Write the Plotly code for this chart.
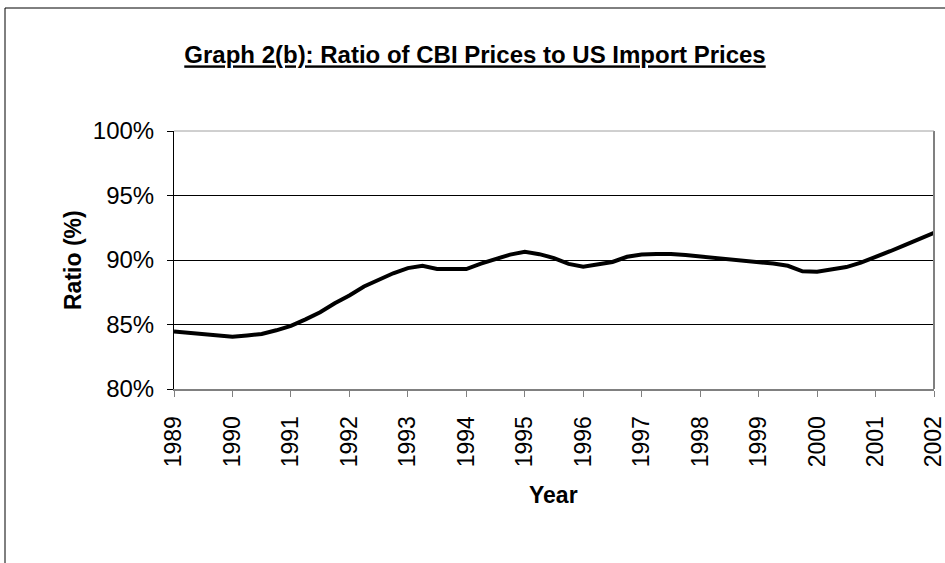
import plotly.graph_objects as go

quarters = [1989 + 0.25 * i for i in range(53)]
ratio = [84.45, 84.35, 84.25, 84.15, 84.05, 84.15, 84.27, 84.55, 84.9, 85.4,
         85.95, 86.65, 87.25, 87.95, 88.45, 88.97, 89.37, 89.56, 89.3, 89.3,
         89.3, 89.72, 90.1, 90.42, 90.64, 90.45, 90.15, 89.7, 89.48, 89.65,
         89.85, 90.25, 90.43, 90.46, 90.46, 90.38, 90.27, 90.17, 90.07, 89.97,
         89.85, 89.72, 89.55, 89.12, 89.09, 89.25, 89.45, 89.8, 90.2, 90.68,
         91.15, 91.63, 92.1]
year_ticks = list(range(1989, 2003))
year_labels = [str(y) for y in year_ticks]
y_ticks = [80, 85, 90, 95, 100]
y_labels = ["80%", "85%", "90%", "95%", "100%"]

FONT = "Liberation Sans, Arial, sans-serif"

fig = go.Figure()
fig.add_trace(go.Scatter(x=quarters, y=ratio, mode="lines",
                         line=dict(color="black", width=4), showlegend=False,
                         hoverinfo="skip", cliponaxis=False))

L, R, T, B = 174, 11, 131, 174
W, H = 945, 563
pw, ph = W - L - R, H - T - B

def px(x):
    return (x - L) / pw

def py(y):
    return (H - B - y) / ph

fig.update_layout(
    width=W, height=H,
    margin=dict(l=L, r=R, t=T, b=B, autoexpand=False),
    paper_bgcolor="white", plot_bgcolor="white",
    font=dict(family=FONT, color="black", size=24),
    title=dict(text="<b><u>Graph 2(b): Ratio of CBI Prices to US Import Prices</u></b>",
               x=px(475), xref="paper", xanchor="center",
               y=1 - 55 / H, yanchor="middle", font=dict(size=24)),
    xaxis=dict(range=[1989, 2002], tickvals=year_ticks, ticktext=year_labels,
               tickangle=-90, ticks="outside", ticklen=6, tickcolor="#808080",
               showline=True, linecolor="#808080", linewidth=2,
               showgrid=False, zeroline=False, automargin=False,
               tickfont=dict(size=23), ticklabelstandoff=10,
               ticklabeloverflow="allow"),
    yaxis=dict(range=[80, 100], tickvals=y_ticks, ticktext=y_labels,
               ticks="outside", ticklen=6, tickcolor="black",
               showline=True, linecolor="black", linewidth=1,
               showgrid=True, gridcolor="black", gridwidth=1,
               zeroline=False, automargin=False, tickfont=dict(size=24),
               ticklabelstandoff=8, ticklabeloverflow="allow"),
    annotations=[
        dict(text="<b>Ratio (%)</b>", xref="paper", yref="paper",
             x=px(73), y=py(260), textangle=-90, showarrow=False,
             xanchor="center", yanchor="middle", font=dict(size=23)),
        dict(text="<b>Year</b>", xref="paper", yref="paper",
             x=px(553), y=py(495), showarrow=False,
             xanchor="center", yanchor="middle", font=dict(size=23)),
    ],
    shapes=[
        dict(type="line", xref="paper", yref="paper", x0=1, x1=1, y0=0, y1=1,
             line=dict(color="#808080", width=2)),
        dict(type="line", xref="paper", yref="paper", x0=0, x1=1, y0=1, y1=1,
             line=dict(color="#a0a0a0", width=1)),
        dict(type="line", xref="paper", yref="paper", x0=px(5), x1=px(946), y0=py(8), y1=py(8),
             line=dict(color="black", width=1)),
        dict(type="line", xref="paper", yref="paper", x0=px(5), x1=px(5), y0=py(8), y1=py(564),
             line=dict(color="black", width=1)),
    ],
)

fig.write_html("out.html", config={"displayModeBar": False},
               post_script="document.body.style.margin='0';document.body.style.overflow='hidden';")
